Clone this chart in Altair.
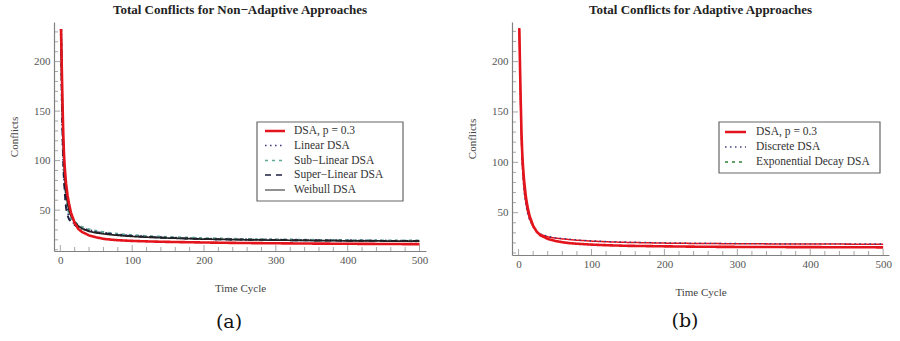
import altair as alt
import pandas as pd

# ---------------- data ----------------
t = [1, 2, 3, 4, 5, 6, 7, 8, 10, 12, 15, 20, 25, 30, 40, 50, 60, 70, 80,
     100, 125, 150, 200, 250, 300, 350, 400, 450, 500]

# (a) non-adaptive
a_names = ["DSA, p = 0.3", "Linear DSA", "Sub−Linear DSA", "Super−Linear DSA", "Weibull DSA"]
a_dsa = [233, 195, 160, 130, 108, 95, 85, 77, 65, 57, 47, 37, 31, 28, 24.5, 22.5, 21, 20.2, 19.6,
         18.9, 18.3, 17.9, 17.3, 16.8, 16.5, 16.2, 16.0, 15.8, 15.6]
a_linear = [233, 175, 135, 105, 88, 75, 66, 58, 50, 44, 40, 36, 33, 31.5, 29.5, 28, 27, 26, 25.2,
            24, 23, 22.2, 21, 20.4, 20, 19.6, 19.3, 19, 18.8]
a_sublinear = [233, 180, 140, 110, 92, 80, 70, 62, 53, 47, 42, 38, 35, 33, 30.5, 29, 27.8, 26.8, 26,
               24.8, 23.6, 22.8, 21.6, 20.8, 20.3, 19.9, 19.6, 19.3, 19.1]
a_superlinear = [233, 170, 128, 100, 82, 70, 60, 52, 45, 41, 38, 35, 32.5, 31, 29, 27.6, 26.6, 25.8, 25,
                 23.8, 22.8, 22, 20.8, 20.2, 19.8, 19.4, 19.1, 18.9, 18.7]
a_weibull = [233, 185, 150, 120, 100, 86, 76, 68, 57, 50, 44, 38, 34, 31.5, 28.5, 27, 26, 25.2, 24.5,
             23.4, 22.5, 21.8, 20.7, 20.1, 19.7, 19.3, 19, 18.8, 18.6]

# (b) adaptive
b_names = ["DSA, p = 0.3", "Discrete DSA", "Exponential Decay DSA"]
b_dsa = [233, 195, 160, 130, 110, 97, 87, 79, 66, 57, 47, 37, 31, 27.5, 24, 22, 20.7, 19.8, 19.2,
         18.3, 17.6, 17.1, 16.6, 16.2, 16.0, 15.9, 15.8, 15.7, 15.6]
b_discrete = [233, 190, 150, 120, 100, 88, 78, 70, 60, 52, 44, 36, 31, 28.5, 26, 24.8, 24, 23.3, 22.7,
              21.8, 21, 20.5, 19.8, 19.4, 19.2, 19, 18.9, 18.8, 18.7]
b_expdecay = [233, 188, 148, 118, 98, 86, 76, 68, 58, 50, 43, 36, 31.5, 29, 26.5, 25.2, 24.4, 23.7, 23,
              22, 21.3, 20.8, 20.1, 19.7, 19.4, 19.2, 19.1, 19, 18.9]

x_labels = [0, 100, 200, 300, 400, 500]
y_labels = [50, 100, 150, 200]

# ---------------- styles ----------------
SERIF = "Liberation Serif"
RED = "#e3141c"
a_colors = [RED, "#3b3580", "#5fa898", "#1c2040", "#222222"]
a_dashes = [[1, 0], [1.5, 3.5], [3, 4], [6, 5], [1, 0]]
a_widths = [2.6, 1.3, 1.3, 1.3, 1.0]
b_colors = [RED, "#3a3f78", "#2f7d32"]
b_dashes = [[1, 0], [1.5, 3.5], [3, 4]]
b_widths = [2.6, 1.3, 1.5]

X_AXIS = alt.Axis(
    title="Time Cycle", values=x_labels, ticks=False, grid=False,
    domainColor="#808080", domainWidth=1.2, labelFont=SERIF, labelFontSize=11,
    labelColor="#555555", labelPadding=3, titleFont=SERIF, titleFontSize=11,
    titleFontWeight="normal", titleColor="#444444", titlePadding=17)
Y_AXIS = alt.Axis(
    title="Conflicts", values=y_labels, ticks=False, grid=False,
    domainColor="#808080", domainWidth=1.2, labelFont=SERIF, labelFontSize=11,
    labelColor="#555555", labelPadding=4, titleFont=SERIF, titleFontSize=11,
    titleFontWeight="normal", titleColor="#444444", titlePadding=14)


def panel(names, series, colors, dashes, widths, title, caption, w, h,
          xdom, ydom, box, rows_y, sample_x, text_x, cap_x, cap_y):
    rows = []
    for n, vals in zip(names, series):
        for ti, v in zip(t, vals):
            rows.append({"t": ti, "c": v, "series": n})
    df = pd.DataFrame(rows)

    xs = alt.Scale(domain=xdom, nice=False, zero=False)
    ys = alt.Scale(domain=ydom, nice=False, zero=False)

    enc = dict(
        x=alt.X("t:Q", scale=xs, axis=X_AXIS),
        y=alt.Y("c:Q", scale=ys, axis=Y_AXIS),
        color=alt.Color("series:N", scale=alt.Scale(domain=names, range=colors), legend=None),
        strokeDash=alt.StrokeDash("series:N", scale=alt.Scale(domain=names, range=dashes), legend=None),
        strokeWidth=alt.StrokeWidth("series:N", scale=alt.Scale(domain=names, range=widths), legend=None),
    )
    others = alt.Chart(df[df.series != names[0]]).mark_line().encode(**enc)
    main = alt.Chart(df[df.series == names[0]]).mark_line().encode(**enc)

    # inward ticks (Mathematica style)
    xt = pd.DataFrame({"xt": list(range(0, 501, 20))})
    yt = pd.DataFrame({"yt": list(range(10, 231, 10))})
    tick_style = dict(color="#808080", thickness=1)
    xt_minor = alt.Chart(xt[xt.xt % 100 != 0]).mark_tick(orient="vertical", **tick_style).encode(
        x=alt.X("xt:Q", scale=xs, axis=X_AXIS), y=alt.value(h - 2), size=alt.value(4))
    xt_major = alt.Chart(xt[xt.xt % 100 == 0]).mark_tick(orient="vertical", **tick_style).encode(
        x=alt.X("xt:Q", scale=xs, axis=X_AXIS), y=alt.value(h - 3), size=alt.value(6))
    yt_minor = alt.Chart(yt[yt.yt % 50 != 0]).mark_tick(orient="horizontal", **tick_style).encode(
        y=alt.Y("yt:Q", scale=ys, axis=Y_AXIS), x=alt.value(2), size=alt.value(4))
    yt_major = alt.Chart(yt[yt.yt % 50 == 0]).mark_tick(orient="horizontal", **tick_style).encode(
        y=alt.Y("yt:Q", scale=ys, axis=Y_AXIS), x=alt.value(3), size=alt.value(6))

    one = pd.DataFrame({"k": [0]})
    layers = [others, main, xt_minor, xt_major, yt_minor, yt_major]

    # legend box
    bx0, bx1, by0, by1 = box
    layers.append(alt.Chart(one).mark_rect(fill="white", stroke="#666666", strokeWidth=1.2).encode(
        x=alt.value(bx0), x2=alt.value(bx1), y=alt.value(by0), y2=alt.value(by1)))
    for n, c, d, sw, ry in zip(names, colors, dashes, widths, rows_y):
        layers.append(alt.Chart(one).mark_rule(color=c, strokeDash=d, strokeWidth=sw).encode(
            x=alt.value(sample_x[0]), x2=alt.value(sample_x[1]), y=alt.value(ry)))
        layers.append(alt.Chart(one).mark_text(align="left", baseline="middle", font=SERIF,
                                               fontSize=11.5, color="#333333").encode(
            x=alt.value(text_x), y=alt.value(ry), text=alt.value(n)))
    # caption
    layers.append(alt.Chart(one).mark_text(align="center", baseline="middle", font="DejaVu Serif",
                                           fontSize=19, color="#111111").encode(
        x=alt.value(cap_x), y=alt.value(cap_y), text=alt.value(caption)))

    return alt.layer(*layers).properties(
        width=w, height=h,
        title=alt.TitleParams(title, font=SERIF, fontSize=13, fontWeight="bold",
                              color="#222222", offset=5, anchor="middle"))


left = panel(a_names, [a_dsa, a_linear, a_sublinear, a_superlinear, a_weibull],
             a_colors, a_dashes, a_widths,
             "Total Conflicts for Non−Adaptive Approaches", "(a)",
             372, 229, [-8.8, 509], [8.7, 240],
             (203, 349, 100, 179), [109, 123.5, 138.5, 153, 168], (211, 231), 240, 175, 300)

right = panel(b_names, [b_dsa, b_discrete, b_expdecay],
              b_colors, b_dashes, b_widths,
              "Total Conflicts for Adaptive Approaches", "(b)",
              377, 233, [-9, 508], [8, 239.3],
              (207, 368, 100, 151), [110, 125, 140], (213, 234), 244, 173, 299)

chart = alt.hconcat(left, right, spacing=38).properties(
    padding={"left": 8, "top": 4, "right": 5, "bottom": 2}
).configure(background="white").configure_view(stroke=None)

chart.save("out.html", embed_options={"renderer": "svg", "actions": False})
